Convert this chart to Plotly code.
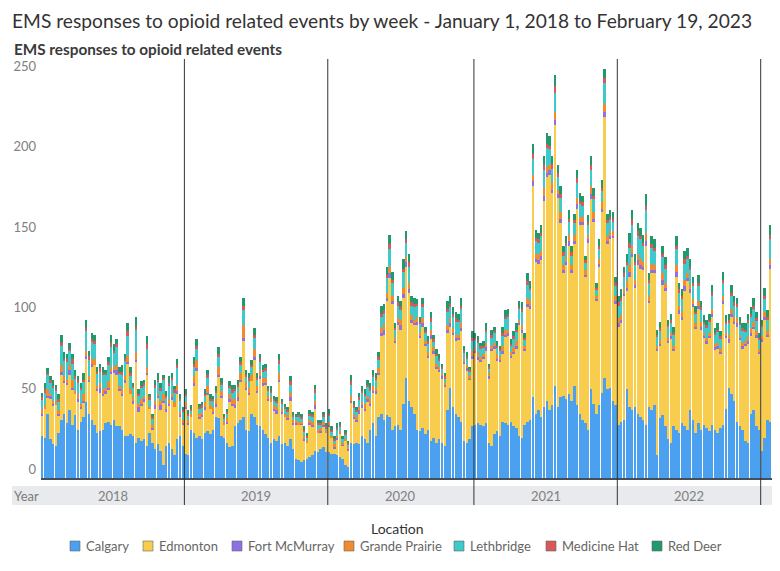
import plotly.graph_objects as go

# ---------------- data (weekly EMS responses) ----------------
year_labels = ["2018", "2019", "2020", "2021", "2022", "2023"]
weeks_per_year = [52, 52, 53, 52, 52, 7]

calgary = (
    [26,25,40,24,21,20,28,36,40,34,42,33,39,30,35,38,47,40,36,33,28,29,30,34,35,33,36,32,32,30,26,26,27,26,22,25,23,24,20,28,22,18,21,17,8,20,22,18,14,24,26,20]
    + [15,14,30,28,25,26,24,28,29,27,30,38,37,26,25,22,19,20,32,34,36,38,30,29,40,38,33,32,30,27,25,22,24,23,26,21,22,20,24,18,12,11,10,11,12,13,14,17,16,18,19,16]
    + [16,15,15,14,13,12,8,7,22,21,22,21,26,24,22,30,34,26,38,40,36,39,38,30,32,33,30,46,62,48,44,40,30,29,31,27,30,23,25,22,24,22,20,42,56,44,40,38,35,23,22,24,32]
    + [33,34,33,32,34,22,20,27,29,26,35,34,33,35,32,31,26,25,33,35,36,50,40,42,38,44,48,42,45,57,44,50,51,49,52,48,57,45,40,36,34,30,55,46,40,45,53,62,55,56,48,45]
    + [33,35,36,55,44,42,44,40,38,36,33,44,42,45,14,37,39,32,24,22,32,30,28,34,32,30,42,36,28,34,30,33,31,29,33,30,28,31,33,43,56,52,48,35,32,30,23,22,40,42,32,30]
    + [17,25,36,35,44,44,45]
)
edmonton = (
    [13,18,10,25,24,25,11,28,19,24,22,22,13,17,8,9,27,20,33,37,26,24,21,18,20,32,29,32,22,21,33,45,25,20,50,16,22,23,44,15,8,25,29,25,39,21,23,31,30,28,12,13]
    + [28,19,8,29,42,11,14,14,23,16,10,6,26,24,8,12,28,25,12,14,24,47,25,23,20,35,20,30,27,31,23,25,18,17,34,19,16,16,24,15,21,22,23,12,10,20,18,26,12,10,13,12]
    + [16,10,3,10,14,8,15,10,25,16,13,19,18,18,25,15,19,26,26,48,53,71,86,78,52,62,62,66,69,67,52,55,65,58,63,55,45,63,52,46,42,40,37,48,38,45,45,48,56,48,45,37,42]
    + [45,39,39,42,45,40,59,53,44,46,42,54,55,40,45,49,69,65,46,71,69,131,94,91,97,128,139,146,132,162,130,108,76,83,92,79,88,122,117,121,91,116,118,113,70,86,112,162,90,92,101,63]
    + [61,61,77,61,81,95,74,92,92,93,111,65,85,82,65,45,81,84,60,64,47,95,74,64,84,92,73,70,65,71,62,54,52,58,67,50,52,46,75,44,28,48,48,59,54,50,59,61,48,51,55,47]
    + [68,73,52,95,60,83,63]
)
fort_mcmurray = (
    [1,0,1,2,1,0,1,2,1,1,3,1,0,2,1,1,2,1,2,0,1,3,1,2,1,1,2,3,1,1,2,1,0,2,1,3,1,2,1,0,1,2,1,3,1,2,1,1,0,2,1,1]
    + [1,1,0,2,1,1,1,2,1,0,1,2,1,1,0,1,2,1,1,2,1,2,1,1,0,2,1,1,2,1,1,0,1,2,1,1,0,1,2,1,1,0,1,1,0,1,1,2,0,1,1,0]
    + [1,0,1,1,0,1,0,1,1,1,1,2,1,1,2,1,1,2,1,2,3,2,3,2,1,2,3,2,3,2,2,1,2,1,2,1,1,3,2,1,1,1,1,2,2,1,2,1,2,1,1,1,2]
    + [1,2,1,1,2,1,1,2,1,1,2,1,2,1,1,2,1,2,1,2,2,3,2,2,3,3,2,3,2,3,2,3,2,2,3,2,2,3,2,2,1,2,3,2,1,2,2,3,2,2,1,2]
    + [2,2,1,2,3,2,2,3,2,2,3,1,2,2,1,1,3,2,1,2,1,3,2,2,3,2,2,2,1,2,2,1,2,1,2,1,2,1,2,1,2,2,1,2,1,2,1,2,2,1,2,1]
    + [1,2,1,2,2,2,1]
)
grande_prairie = (
    [3,2,4,1,2,3,2,4,3,2,3,5,2,3,2,4,3,2,3,4,2,3,3,2,4,3,2,3,2,3,2,4,3,2,5,2,3,2,4,1,2,3,2,3,4,2,3,2,3,4,2,2]
    + [3,2,2,4,5,2,2,3,4,2,3,3,5,3,2,2,3,3,4,3,4,8,3,3,4,5,3,4,3,3,2,3,2,2,4,2,2,2,3,2,2,2,1,2,1,2,2,3,2,2,2,1]
    + [2,1,2,1,2,1,1,1,3,2,2,2,2,3,2,3,3,2,3,3,4,3,4,3,2,3,3,4,3,4,3,2,3,2,3,2,2,3,2,2,2,2,1,3,3,3,2,2,3,2,2,1,3]
    + [2,3,2,2,3,2,2,2,3,2,3,3,2,2,3,3,2,3,2,4,3,4,3,4,3,5,4,3,4,5,3,4,3,3,4,3,4,4,3,3,3,3,5,4,2,3,4,5,3,3,3,3]
    + [3,3,3,4,4,5,3,4,4,3,5,3,4,3,2,2,4,3,2,2,2,4,3,3,4,3,3,3,2,3,3,2,2,2,3,2,2,2,3,2,3,3,3,3,2,2,2,3,3,3,2,2]
    + [2,3,2,4,3,4,3]
)
lethbridge = (
    [6,8,9,7,8,6,5,12,10,11,9,10,8,7,9,8,12,10,11,9,8,7,9,8,10,12,9,11,8,9,10,12,8,6,14,5,7,6,11,5,4,8,7,6,9,5,8,9,6,10,7,5]
    + [4,3,2,6,7,3,3,4,5,3,4,4,6,4,2,3,4,4,5,4,5,9,4,4,5,7,4,5,4,5,3,3,3,3,6,3,3,2,5,2,2,3,2,3,2,3,3,5,3,2,3,2]
    + [4,3,2,4,3,2,3,2,7,4,3,5,6,5,6,5,6,5,5,7,6,9,11,8,5,7,6,10,9,10,6,8,7,6,7,5,5,5,4,5,4,3,3,8,7,7,8,8,9,4,4,3,6]
    + [5,6,5,4,7,3,5,6,4,4,6,7,8,4,5,6,7,8,4,8,7,10,8,7,9,11,12,10,9,12,8,9,6,7,8,6,7,9,8,7,5,6,10,8,4,6,7,13,8,7,6,6]
    + [8,9,8,10,11,13,9,11,12,10,14,8,10,9,6,6,10,9,7,6,7,10,8,8,10,9,9,8,6,9,7,6,6,7,8,6,7,6,8,6,7,8,7,7,6,7,6,8,7,8,7,6]
    + [6,8,7,12,9,12,9]
)
medicine_hat = (
    [1,2,1,2,1,1,2,2,1,2,1,3,1,2,1,1,2,3,1,2,1,2,1,1,2,3,1,2,1,2,1,3,2,1,2,1,1,2,3,1,1,2,1,2,1,1,2,1,2,2,1,1]
    + [1,1,1,2,2,1,1,1,2,1,1,1,2,1,1,1,1,2,1,1,2,3,1,2,1,2,1,2,1,1,1,1,1,1,2,1,1,1,2,1,0,1,1,1,1,1,1,2,1,1,1,1]
    + [1,1,1,1,1,0,1,1,2,1,1,1,1,1,1,2,1,1,2,2,2,2,3,2,1,2,2,2,2,3,2,2,1,1,2,1,2,2,1,1,1,1,1,2,2,2,2,1,2,1,1,1,2]
    + [1,1,2,1,1,1,2,1,1,1,2,1,1,1,2,1,1,2,1,2,1,3,2,2,2,3,2,2,3,4,2,2,2,2,2,2,2,3,2,2,1,2,3,2,1,2,2,3,2,2,2,2]
    + [2,2,2,2,3,3,2,3,2,2,3,2,2,2,1,2,2,2,1,2,1,2,2,2,3,2,2,2,1,2,2,1,2,1,2,1,1,2,2,1,2,2,2,2,1,2,1,2,2,2,1,1]
    + [1,2,2,3,2,3,2]
)
red_deer = (
    [3,4,3,2,4,3,3,5,4,3,4,3,4,2,3,4,5,3,4,4,3,3,4,2,3,5,4,3,3,4,3,5,4,2,6,3,3,2,5,2,2,3,4,3,2,3,4,3,2,4,3,2]
    + [3,2,2,4,4,2,2,3,3,3,2,3,4,3,2,2,3,3,3,3,3,5,3,3,3,4,3,3,3,3,2,3,2,2,4,2,2,2,3,2,2,2,2,2,2,2,2,3,2,2,2,2]
    + [3,2,2,3,2,2,2,1,4,3,2,3,3,3,3,3,3,3,3,5,4,5,6,5,3,4,4,6,5,5,4,4,3,3,4,3,3,4,3,3,3,2,2,5,5,4,4,4,5,3,3,2,4]
    + [3,3,2,3,4,2,3,3,3,2,4,4,4,3,3,4,4,4,3,5,4,6,5,4,5,6,7,6,5,7,5,5,4,4,5,4,4,5,5,4,3,4,6,5,3,4,5,6,4,4,4,4]
    + [4,5,4,5,6,6,5,5,5,5,7,4,5,5,3,4,5,5,3,4,4,6,4,4,5,5,5,4,4,5,4,4,3,4,5,3,4,3,5,4,4,5,4,4,4,3,4,4,4,5,4,3]
    + [3,5,4,6,5,6,5]
)

series_names = ["Calgary", "Edmonton", "Fort McMurray", "Grande Prairie",
                "Lethbridge", "Medicine Hat", "Red Deer"]
series_values = [calgary, edmonton, fort_mcmurray, grande_prairie,
                 lethbridge, medicine_hat, red_deer]
series_colors = ["#4ba1ef", "#f8cd4e", "#8f6fe6", "#f28a31",
                 "#3ecaca", "#d95858", "#21996b"]

n_weeks = sum(weeks_per_year)
week_labels = []
for y, n in zip(year_labels, weeks_per_year):
    week_labels += [f"{y} week {w + 1}" for w in range(n)]
x_idx = list(range(n_weeks))

# ---------------- layout geometry ----------------
# The page body has an 8px margin, so the figure is drawn 8px smaller and
# every position below is given in window pixels and shifted by OFF.
OFF = 8
W, H = 780 - OFF, 571 - OFF
PLOT_L, PLOT_T, PLOT_B = 41, 59, 478          # window pixels
ML, MT = PLOT_L - OFF, PLOT_T - OFF
MR, MB = 0, H - (PLOT_B - OFF)
PW, PH = W - ML - MR, H - MT - MB


def px_x(px):
    return (px - OFF - ML) / PW


def px_y(py):
    return (PLOT_B - py) / PH


FONT = "Lato"

fig = go.Figure()
for name, vals, col in zip(series_names, series_values, series_colors):
    fig.add_trace(go.Bar(
        x=x_idx, y=vals[:n_weeks], name=name, marker_color=col,
        marker_line_width=0, customdata=week_labels,
        hovertemplate="%{customdata}<br>" + name + ": %{y}<extra></extra>",
        showlegend=False,
    ))

shapes = []
annotations = []

# year band
shapes.append(dict(type="rect", xref="paper", yref="paper",
                   x0=px_x(12), x1=px_x(780), y0=px_y(505), y1=px_y(486),
                   fillcolor="#e8eaed", line_width=0, layer="below"))
annotations.append(dict(text="Year", xref="paper", yref="paper",
                        x=px_x(12), y=px_y(496), xanchor="left", yanchor="middle",
                        showarrow=False, font=dict(family=FONT, size=13, color="#7a7a7a")))

start = 0
for i, (y, n) in enumerate(zip(year_labels, weeks_per_year)):
    end = start + n
    if n >= 10:
        annotations.append(dict(text=y, xref="x", yref="paper",
                                x=(start + end - 1) / 2, y=px_y(496),
                                xanchor="center", yanchor="middle", showarrow=False,
                                font=dict(family=FONT, size=13, color="#808080")))
    if i < len(year_labels) - 1:
        shapes.append(dict(type="line", xref="x", yref="paper",
                           x0=end - 0.5, x1=end - 0.5, y0=px_y(505), y1=1,
                           line=dict(color="#333333", width=1)))
    start = end

# titles
annotations.append(dict(text="EMS responses to opioid related events by week - January 1, 2018 to February 19, 2023",
                        xref="paper", yref="paper", x=px_x(11), y=px_y(8),
                        xanchor="left", yanchor="top", showarrow=False, borderpad=0,
                        font=dict(family=FONT, size=19.2, color="#333333")))
annotations.append(dict(text="<b>EMS responses to opioid related events</b>",
                        xref="paper", yref="paper", x=px_x(12), y=px_y(49),
                        xanchor="left", yanchor="middle", showarrow=False,
                        font=dict(family=FONT, size=15.3, color="#3a3a3a")))

# legend (drawn as squares + text to keep the reference spacing)
annotations.append(dict(text="Location", xref="paper", yref="paper",
                        x=px_x(397), y=px_y(528), xanchor="center", yanchor="middle",
                        showarrow=False, font=dict(family=FONT, size=14, color="#333333")))
legend_sq_x = [75, 148, 237, 349, 459, 551, 657]
for sx, name, col in zip(legend_sq_x, series_names, series_colors):
    shapes.append(dict(type="rect", xref="paper", yref="paper",
                       x0=px_x(sx - 5), x1=px_x(sx + 5), y0=px_y(551), y1=px_y(541),
                       fillcolor=col, line=dict(color="#666666", width=0.6)))
    annotations.append(dict(text=name, xref="paper", yref="paper",
                            x=px_x(sx + 9), y=px_y(546), xanchor="left", yanchor="middle",
                            showarrow=False, font=dict(family=FONT, size=13, color="#666666")))

fig.update_layout(
    width=W, height=H,
    margin=dict(l=ML, r=MR, t=MT, b=MB, autoexpand=False),
    barmode="stack", bargap=0.3,
    plot_bgcolor="white", paper_bgcolor="white",
    showlegend=False,
    shapes=shapes, annotations=annotations,
    font=dict(family=FONT),
    xaxis=dict(range=[-0.5, n_weeks - 0.5], showticklabels=False, showgrid=False,
               zeroline=False, showline=True, linecolor="#44505c", linewidth=1.5,
               fixedrange=True),
    yaxis=dict(range=[0, 260], tickvals=[0, 50, 100, 150, 200, 250],
               showgrid=False, zeroline=False, showline=False, ticks="",
               ticklabelshift=-9, ticklabelstandoff=4,
               tickfont=dict(family=FONT, size=13, color="#808080"), fixedrange=True),
)

fig.write_html("out.html")
